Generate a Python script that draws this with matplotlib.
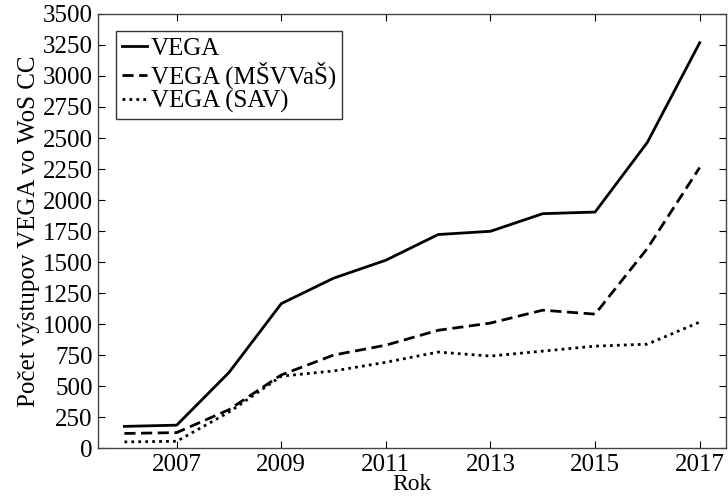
import matplotlib.pyplot as plt
import numpy as np

years = np.arange(2006, 2018)
vega = [175, 185, 610, 1165, 1370, 1515, 1722, 1748, 1890, 1903, 2465, 3268]
vega_msvvas = [118, 125, 310, 590, 750, 830, 950, 1008, 1112, 1080, 1610, 2262]
vega_sav = [50, 55, 290, 580, 622, 692, 774, 742, 782, 822, 838, 1016]

plt.rcParams['font.family'] = ['Liberation Serif', 'DejaVu Serif']

fig = plt.figure(figsize=(7.28, 4.99), dpi=100)
ax = fig.add_axes([0.135, 0.102, 0.862, 0.870])

ax.plot(years, vega, color='black', linestyle='-', linewidth=2, label='VEGA')
ax.plot(years, vega_msvvas, color='black', linestyle=(0, (4, 2)), linewidth=2, label='VEGA (MŠVVaŠ)')
ax.plot(years, vega_sav, color='black', linestyle=(0, (1, 1.5)), linewidth=2, label='VEGA (SAV)')

ax.set_xlim(2005.5, 2017.5)
ax.set_ylim(0, 3500)
ax.set_xticks(np.arange(2007, 2018, 2))
ax.set_yticks(np.arange(0, 3501, 250))
ax.tick_params(direction='in', top=True, right=True, labelsize=18, length=5)
ax.tick_params(axis='x', pad=4)
ax.tick_params(axis='y', pad=4)
for s in ax.spines.values():
    s.set_linewidth(1)
    s.set_color('#444444')

ax.set_xlabel('Rok', fontsize=17, labelpad=-1)
ax.set_ylabel('Počet výstupov VEGA vo WoS CC', fontsize=18, labelpad=2)

leg = ax.legend(loc='upper left', fontsize=18, frameon=True, fancybox=False,
                edgecolor='black', handlelength=1.0, handletextpad=0.15,
                borderpad=0.25, labelspacing=0.05, borderaxespad=0.7)
leg.get_frame().set_linewidth(1)

fig.savefig('out.png', dpi=100)
